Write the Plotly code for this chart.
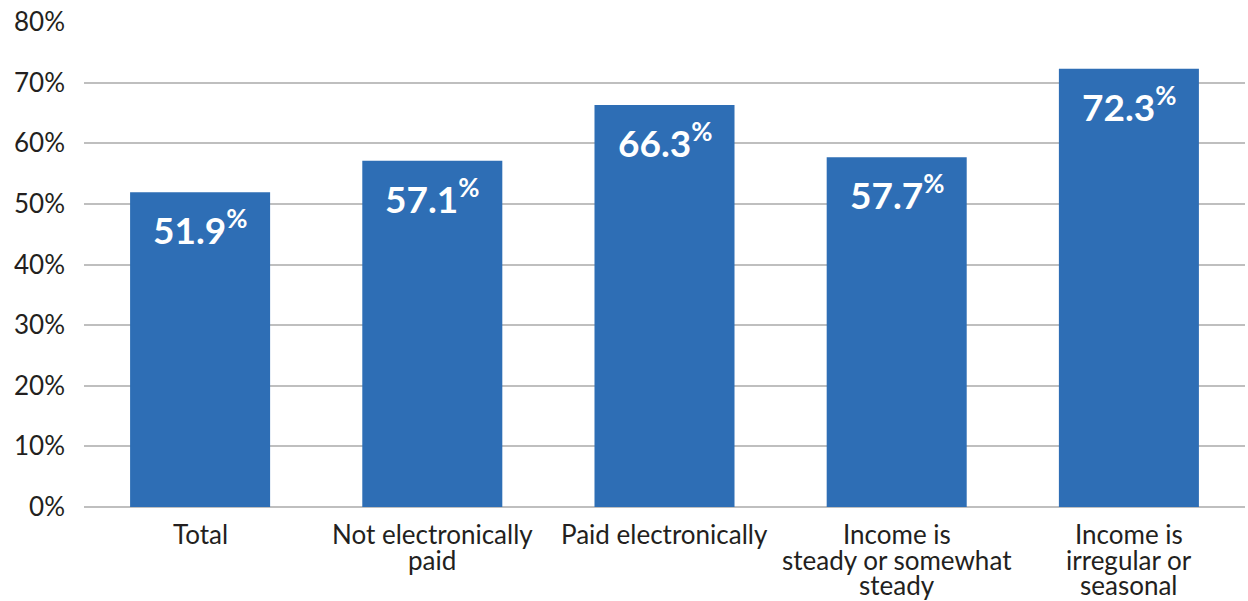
import plotly.graph_objects as go

categories = ["Total", "Not electronically<br>paid", "Paid electronically",
              "Income is<br>steady or somewhat<br>steady", "Income is<br>irregular or<br>seasonal"]
values = [51.9, 57.1, 66.3, 57.7, 72.3]
y_ticks = [0, 10, 20, 30, 40, 50, 60, 70, 80]
y_ticklabels = [f"{v}%" for v in y_ticks]

BAR = "#2E6EB5"
FONT = "Lato"
TXT = "#231F20"

fig = go.Figure()
fig.add_trace(go.Bar(x=categories, y=values, marker=dict(color=BAR, line=dict(width=0)),
                     width=0.603, hoverinfo="skip"))

# value labels inside bars
for c, v in zip(categories, values):
    fig.add_annotation(x=c, y=v, text=f"<b>{v:.1f}<sup>%</sup></b>", showarrow=False,
                       yanchor="top", yshift=-8,
                       font=dict(family=FONT, size=37, color="white"))

# category labels with tight line spacing
for c in categories:
    for i, line in enumerate(c.split("<br>")):
        fig.add_annotation(x=c, y=0, yref="y", text=line, showarrow=False,
                           yanchor="middle", yshift=-(27 + 25.5 * i), borderpad=0,
                           font=dict(family=FONT, size=26, color=TXT))

fig.update_layout(
    width=1248, height=601,
    margin=dict(l=84, r=3, t=22, b=94),
    paper_bgcolor="white", plot_bgcolor="white",
    showlegend=False,
    font=dict(family=FONT, color=TXT),
)
fig.update_xaxes(showgrid=False, showline=False, ticks="", showticklabels=False)
fig.update_yaxes(range=[0, 80], tickvals=y_ticks, ticktext=y_ticklabels, showgrid=True,
                 gridcolor="#BFBFBF", gridwidth=1.5, zeroline=True, zerolinecolor="#BFBFBF",
                 zerolinewidth=1.5, showline=False, ticks="", ticklabelstandoff=18,
                 tickfont=dict(size=26, family=FONT, color=TXT))

fig.write_html("out.html", config={"displayModeBar": False},
               post_script="document.body.style.margin='0';")
